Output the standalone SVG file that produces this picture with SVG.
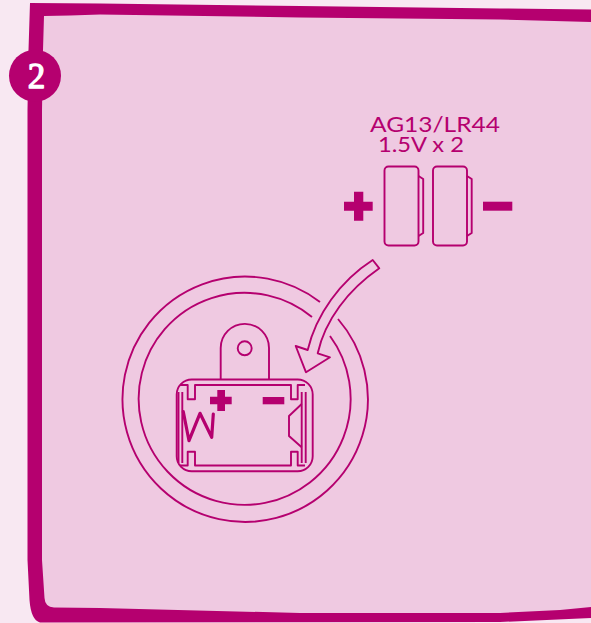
<svg xmlns="http://www.w3.org/2000/svg" width="591" height="623" viewBox="0 0 591 623">
<style>
.l{fill:none;stroke:#b5006f;stroke-width:1.9;stroke-linejoin:round}
.f{fill:#b5006f}
.t{font-family:"Lato","Liberation Sans",sans-serif;font-weight:400;fill:#b5006f}
</style>
<rect width="591" height="623" fill="#f8e8f2"/>
<g id="panel">
<path d="M36,10H591V615H36Z" fill="#efc9e1"/>
<path class="f" d="M30,3 L100,3.5 L300,6 L500,8.5 L591,9.5 V22 L500,19.5 L300,17.5 L100,14.5 L70,15.5 L44,16 L43,50 L42,110 L42,560 L44.5,598 Q45,607 54,607.5 L100,608 L300,613 L500,613 L560,610 L591,607 V618 L500,622 L40,622.5 Q31,620 29.5,600 L27.5,560 L27.5,110 L28.5,50 Z"/>
</g>
<g id="badge">
<circle class="f" cx="35" cy="75.7" r="26"/>
<text x="36.5" y="88" text-anchor="middle" font-family="'Liberation Serif',serif" font-size="35" fill="#fff" stroke="#fff" stroke-width="1.3" stroke-linejoin="round">2</text>
</g>
<g id="label">
<text class="t" x="370" y="131.7" font-size="22" textLength="130" lengthAdjust="spacingAndGlyphs">AG13/LR44</text>
<text class="t" x="378" y="151.7" font-size="22" textLength="86" lengthAdjust="spacingAndGlyphs">1.5V x 2</text>
</g>
<g id="batteries">
<rect class="l" x="384.5" y="166.5" width="34" height="79" rx="4"/>
<path class="l" d="M418.5,176 L423.2,179 V233 L418.5,236"/>
<rect class="l" x="433" y="166.5" width="34" height="79" rx="4"/>
<path class="l" d="M467,176 L471.7,179 V233 L467,236"/>
<path class="f" d="M354,191.7H363.3V201.7H372.7V210.7H363.3V220.7H354V210.7H344V201.7H354Z"/>
<rect class="f" x="483" y="201.7" width="29.3" height="9"/>
</g>
<g id="ring">
<path class="l" d="M320,302 A122.7,122.7 0 1 0 338,319"/>
<path class="l" d="M312,317 A106,106 0 1 0 330,336"/>
</g>
<g id="holder">
<path class="l" d="M220.7,379.5 V348 A24,24 0 0 1 269,348 V379.5"/>
<circle class="l" cx="244.7" cy="348.3" r="7"/>
<rect class="l" x="176.7" y="379.5" width="136" height="91.8" rx="15"/>
<path class="l" d="M180,385 H187.7 V399.3 H195 V385 H291 V399.3 H297.7 V385 H305"/>
<path class="l" d="M180,465.5 H187.7 V451.7 H195 V465.5 H291 V451.7 H297.7 V465.5 H305"/>
<path class="l" d="M178.5,392 V463 M182.3,392 V463 M301.7,392 V463 M305.7,392 V463"/>
<path class="l" d="M301.7,404 L289,416 V436 L301.7,447.3"/>
<path d="M183.3,411.7 L189,440.7 L200,413.3 L211.7,437.3 L213.3,414" fill="none" stroke="#b5006f" stroke-width="3.2" stroke-linecap="round" stroke-linejoin="round"/>
<path class="f" d="M217.3,390H225V396.7H231.7V404.3H225V411H217.3V404.3H210V396.7H217.3Z"/>
<rect class="f" x="262.7" y="397" width="21.6" height="7.3"/>
</g>
<g id="connectors">
<path class="l" d="M372.7,260 L379.3,268.3 C348,290 325,320 317.7,353.3 L330,357.3 L306,372.3 L295.7,346 L307.7,350 C316,315 340,281 372.7,260 Z"/>
</g>
</svg>
